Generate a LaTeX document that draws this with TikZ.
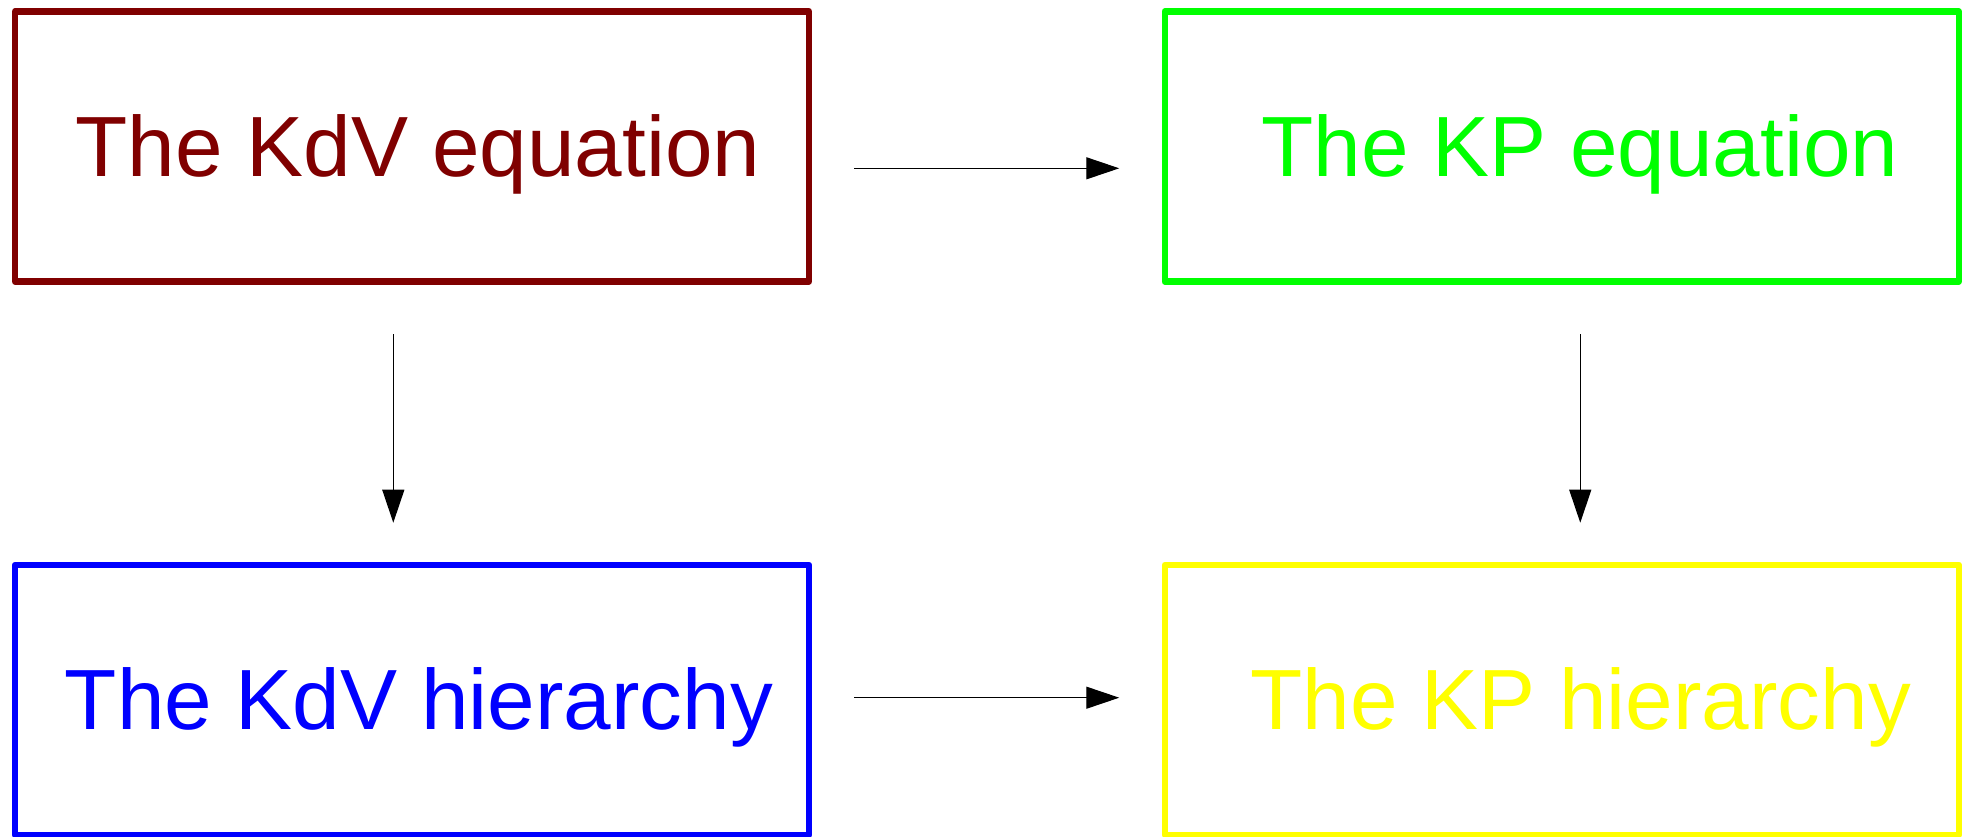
\documentclass[tikz,border=0pt]{standalone}
\usepackage{fontspec}
\setmainfont{Liberation Sans}
\usetikzlibrary{arrows.meta}
\definecolor{kdvred}{HTML}{800000}
\definecolor{kpgreen}{HTML}{00FF00}
\definecolor{kdvblue}{HTML}{0000FF}
\definecolor{kpyellow}{HTML}{FFFF00}
\tikzset{
  eqbox/.style={draw, line width=6.5pt, line join=round, rectangle,
    minimum width=794pt, minimum height=270pt, inner sep=0pt, outer sep=0pt,
    font=\fontsize{85.5}{100}\selectfont, text height=59pt, text depth=0pt},
  conn/.style={line width=1.2pt, -{Triangle[length=33pt,width=22pt]}}
}
\begin{document}
\begin{tikzpicture}[x=1pt,y=-1pt]
\useasboundingbox (0,0) rectangle (1968,836);
\node[eqbox, draw=kdvred, text=kdvred] (kdv) at (412,146.5) {\hspace*{12pt}The KdV equation};
\node[eqbox, draw=kpgreen, text=kpgreen] (kp) at (1561.75,146.5) {\hspace*{36pt}The KP equation};
\node[eqbox, draw=kdvblue, text=kdvblue] (kdvh) at (412,700) {\hspace*{14pt}The KdV hierarchy};
\node[eqbox, draw=kpyellow, text=kpyellow] (kph) at (1561.75,700) {\hspace*{38pt}The KP hierarchy};
\draw[conn, shorten <=45pt, shorten >=45.5pt] ([yshift=-21.8pt]kdv.east) -- ([yshift=-21.8pt]kp.west);
\draw[conn, shorten <=45pt, shorten >=45.5pt] ([yshift=2.3pt]kdvh.east) -- ([yshift=2.3pt]kph.west);
\draw[conn, shorten <=52.5pt, shorten >=42.3pt] ([xshift=-18.7pt]kdv.south) -- ([xshift=-18.7pt]kdvh.north);
\draw[conn, shorten <=52.5pt, shorten >=42.3pt] ([xshift=18.5pt]kp.south) -- ([xshift=18.5pt]kph.north);
\end{tikzpicture}
\end{document}
